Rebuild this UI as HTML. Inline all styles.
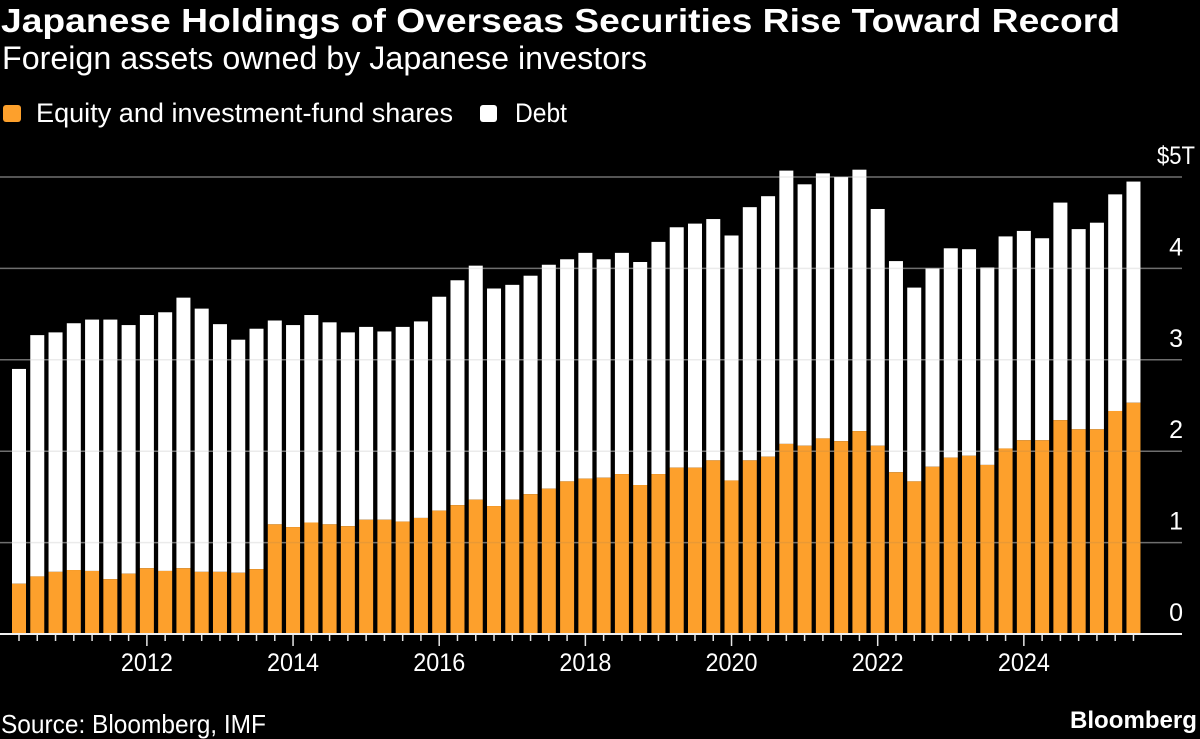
<!DOCTYPE html>
<html lang="en">
<head>
<meta charset="utf-8">
<title>Japanese Holdings of Overseas Securities Rise Toward Record</title>
<style>
html,body{margin:0;padding:0;background:#000;width:1200px;height:739px;overflow:hidden}
svg{display:block}
text{font-family:"Liberation Sans",sans-serif;fill:#fff}
</style>
</head>
<body>
<svg id="chart" xmlns="http://www.w3.org/2000/svg" width="1200" height="739" viewBox="0 0 1200 739">
  <rect x="0" y="0" width="1200" height="739" fill="#000"/>
  <text x="1" y="32" font-size="33" font-weight="700" textLength="1119" lengthAdjust="spacingAndGlyphs">Japanese Holdings of Overseas Securities Rise Toward Record</text>
  <text x="2" y="69" font-size="32" textLength="645" lengthAdjust="spacingAndGlyphs">Foreign assets owned by Japanese investors</text>
  <g>
    <rect x="3" y="105" width="18" height="17" rx="3" fill="#FDA02C"/>
    <text x="36" y="122" font-size="27" textLength="417" lengthAdjust="spacingAndGlyphs">Equity and investment-fund shares</text>
    <rect x="480" y="105" width="17" height="17" rx="3" fill="#fff"/>
    <text x="515" y="122" font-size="27" textLength="52" lengthAdjust="spacingAndGlyphs">Debt</text>
  </g>
  <g id="grid"></g>
  <g id="bars"></g>
  <g id="gridOverlay"></g>
  <g id="yLabels"></g>
  <g id="xAxis"></g>
  <text x="1" y="733" font-size="26" textLength="265" lengthAdjust="spacingAndGlyphs">Source: Bloomberg, IMF</text>
  <text x="1070" y="728" font-size="24" font-weight="700" textLength="127" lengthAdjust="spacingAndGlyphs">Bloomberg</text>
</svg>
<script>
const categories = [
  "2010Q2","2010Q3","2010Q4",
  "2011Q1","2011Q2","2011Q3","2011Q4",
  "2012Q1","2012Q2","2012Q3","2012Q4",
  "2013Q1","2013Q2","2013Q3","2013Q4",
  "2014Q1","2014Q2","2014Q3","2014Q4",
  "2015Q1","2015Q2","2015Q3","2015Q4",
  "2016Q1","2016Q2","2016Q3","2016Q4",
  "2017Q1","2017Q2","2017Q3","2017Q4",
  "2018Q1","2018Q2","2018Q3","2018Q4",
  "2019Q1","2019Q2","2019Q3","2019Q4",
  "2020Q1","2020Q2","2020Q3","2020Q4",
  "2021Q1","2021Q2","2021Q3","2021Q4",
  "2022Q1","2022Q2","2022Q3","2022Q4",
  "2023Q1","2023Q2","2023Q3","2023Q4",
  "2024Q1","2024Q2","2024Q3","2024Q4",
  "2025Q1","2025Q2","2025Q3"
];
const equity = [
  0.55,0.63,0.68,0.70,0.69,0.60,0.66,0.72,0.69,0.72,0.68,0.68,0.67,0.71,
  1.20,1.17,1.22,1.20,1.18,1.25,1.25,1.23,1.27,1.35,1.41,1.47,1.40,1.47,
  1.53,1.59,1.67,1.70,1.71,1.75,1.63,1.75,1.82,1.82,1.90,1.68,1.90,1.94,
  2.08,2.06,2.14,2.11,2.22,2.06,1.77,1.67,1.83,1.93,1.95,1.85,2.03,2.12,
  2.12,2.34,2.24,2.24,2.44,2.53
];
const debt = [
  2.35,2.64,2.62,2.70,2.75,2.84,2.72,2.77,2.83,2.96,2.88,2.71,2.55,2.63,
  2.23,2.21,2.27,2.21,2.12,2.11,2.06,2.13,2.15,2.34,2.46,2.56,2.38,2.35,
  2.39,2.45,2.43,2.47,2.39,2.42,2.44,2.54,2.63,2.67,2.64,2.68,2.77,2.85,
  2.99,2.86,2.90,2.89,2.86,2.59,2.31,2.12,2.17,2.29,2.26,2.16,2.32,2.29,
  2.21,2.38,2.19,2.26,2.37,2.42
];
const yTicks = [0,1,2,3,4,5];
const yTickLabels = ["0","1","2","3","4","$5T"];
const xYearLabels = ["2012","2014","2016","2018","2020","2022","2024"];

const SVG_NS = "http://www.w3.org/2000/svg";
function xScale(i){ return 19 + 18.27 * i; }
function yScale(v){ return 634 - 91.4 * v; }
function make(tag, attrs, parent){
  const el = document.createElementNS(SVG_NS, tag);
  for (const k in attrs) el.setAttribute(k, attrs[k]);
  parent.appendChild(el);
  return el;
}
const gridG = document.getElementById("grid");
const overlayG = document.getElementById("gridOverlay");
const barsG = document.getElementById("bars");
const yLabelsG = document.getElementById("yLabels");
const xAxisG = document.getElementById("xAxis");

yTicks.forEach(function(v, i){
  if (v !== 0) {
    const line = make("line", {x1:0, x2:1182, y1:yScale(v), y2:yScale(v), stroke:"#6e6e6e", "stroke-width":1.5}, gridG);
    
    
    const over = make("line", {x1:0, x2:1182, y1:yScale(v), y2:yScale(v), stroke:"#6e6e6e", "stroke-width":1.5, opacity:0.13}, overlayG);
    
    
  }
  const label = make("text", {x:1183, y:yScale(v) - 13, "font-size":25}, yLabelsG);
  
  
  label.textContent = yTickLabels[i];
  if (yTickLabels[i].length > 1) {
    label.setAttribute("x", 1157);
    label.setAttribute("textLength", 38);
    label.setAttribute("lengthAdjust", "spacingAndGlyphs");
  } else {
    label.setAttribute("text-anchor", "end");
  }
});

categories.forEach(function(cat, i){
  const cx = xScale(i);
  const eqTop = yScale(equity[i]);
  const total = equity[i] + debt[i];
  const debtTop = yScale(total);
  const debtBar = make("rect", {x:cx - 7, y:debtTop, width:14, height:eqTop - debtTop, fill:"#fff"}, barsG);
  
  
  const eqBar = make("rect", {x:cx - 7, y:eqTop, width:14, height:yScale(0) - eqTop, fill:"#FDA02C"}, barsG);
  
  

  const isYearStart = cat.slice(4) === "Q1" && xYearLabels.indexOf(cat.slice(0,4)) !== -1;
  const tick = make("line", {x1:cx, x2:cx, y1:yScale(0), y2:yScale(0) + (isYearStart ? 12 : 7), stroke:"#e6e6e6", "stroke-width":1.5}, xAxisG);
  
  
  if (isYearStart) {
    const yr = make("text", {x:cx, y:671, "font-size":25, "text-anchor":"middle", textLength:52, lengthAdjust:"spacingAndGlyphs"}, xAxisG);
    
    
    yr.textContent = cat.slice(0,4);
  }
});

const baseline = make("line", {x1:0, x2:1182, y1:yScale(0), y2:yScale(0), stroke:"#f0f0f0", "stroke-width":2}, xAxisG);


</script>
</body>
</html>
